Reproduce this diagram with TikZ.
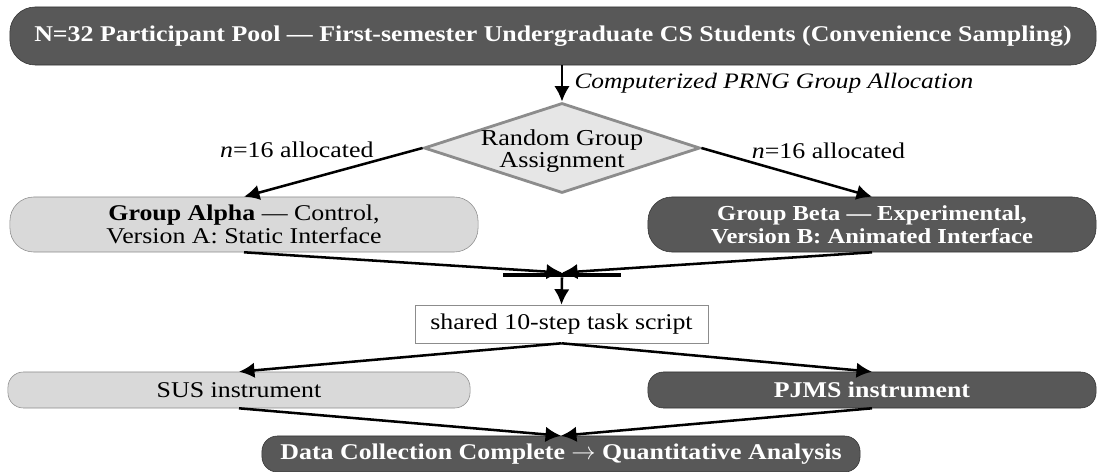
\documentclass[tikz,border=0pt]{standalone}
\usepackage{fontspec}
\setmainfont[FakeStretch=1.15]{Liberation Serif}
\usetikzlibrary{arrows.meta,positioning,shapes.geometric}

\definecolor{darkfill}{HTML}{585858}
\definecolor{lightfill}{HTML}{D9D9D9}
\definecolor{edgegray}{HTML}{8C8C8C}
\definecolor{diamondfill}{HTML}{E6E6E6}

\begin{document}
\begin{tikzpicture}[x=0.025cm,y=-0.025cm,
    font=\fontsize{16}{16.5}\selectfont,
    darkbox/.style={draw=black!80,fill=darkfill,text=white,font=\fontsize{16}{16.5}\selectfont\bfseries,
        rounded corners=13pt,inner sep=2pt,align=center},
    lightbox/.style={draw=edgegray,fill=lightfill,rounded corners=13pt,inner sep=2pt,align=center},
    flow/.style={-{Latex[length=11pt,width=11pt]},line width=1.8pt}]
\useasboundingbox (0,0) rectangle (1103,472);

% Participant pool
\node[darkbox,minimum width=27.15cm,minimum height=1.45cm,rounded corners=18pt] (pool) at (553,36)
    {N=32 Participant Pool --- First-semester Undergraduate CS Students (Convenience Sampling)};

% Random assignment
\node[diamond,draw=edgegray,line width=2pt,fill=diamondfill,aspect=3.07,inner sep=0pt,
    minimum width=6.9cm,minimum height=2.25cm] (assign) at (562,148) {};
\node[align=center,font=\fontsize{16.2}{15.6}\selectfont] (assigntext) at ([yshift=-2pt]assign.center) {Random Group\\Assignment};

% Groups
\node[lightbox,minimum width=11.7cm,minimum height=1.375cm,rounded corners=17pt] (alpha) at (244,224.5)
    {\textbf{Group Alpha} --- Control,\\Version A: Static Interface};
\node[darkbox,minimum width=11.2cm,minimum height=1.375cm,rounded corners=17pt,
    font=\fontsize{15.2}{16.5}\selectfont\bfseries] (beta) at (872,224.5)
    {Group Beta --- Experimental,\\Version B: Animated Interface};

% Join bar
\node[fill=black,inner sep=0pt,minimum width=2.925cm,minimum height=3pt] (join) at (562,275) {};

% Task script
\node[draw=edgegray,fill=white,inner sep=2pt,minimum width=7.325cm,minimum height=0.95cm] (script) at (561.5,324)
    {shared 10-step task script};

% Instruments
\node[lightbox,minimum width=11.55cm,minimum height=0.9cm,rounded corners=11pt] (sus) at (239,390) {SUS instrument};
\node[darkbox,minimum width=11.2cm,minimum height=0.9cm,rounded corners=11pt] (pjms) at (872,390) {PJMS instrument};

% Final step
\node[darkbox,minimum width=14.95cm,minimum height=0.9cm,rounded corners=11pt] (done) at (561,454)
    {Data Collection Complete \textmd{$\rightarrow$} Quantitative Analysis};

% Connectors
\draw[flow] (pool.south -| assign.north) -- node[right,font=\fontsize{15.7}{16}\selectfont\itshape,inner sep=8pt] {Computerized PRNG Group Allocation} (assign.north);
\draw[flow] (assign.west) -- node[pos=0.26,anchor=south east,inner sep=1pt] {\textit{n}=16 allocated} (alpha.north);
\draw[flow] (assign.east) -- node[pos=0.28,anchor=south west,inner sep=1pt] {\textit{n}=16 allocated} (beta.north);
\draw[flow] (alpha.south) -- (join.north);
\draw[flow] (beta.south) -- (join.north);
\draw[flow] (join.south) -- (script.north);
\draw[flow] (script.south) -- (sus.north);
\draw[flow] (script.south) -- (pjms.north);
\draw[flow] (sus.south) -- (done.north);
\draw[flow] (pjms.south) -- (done.north);
\end{tikzpicture}
\end{document}
